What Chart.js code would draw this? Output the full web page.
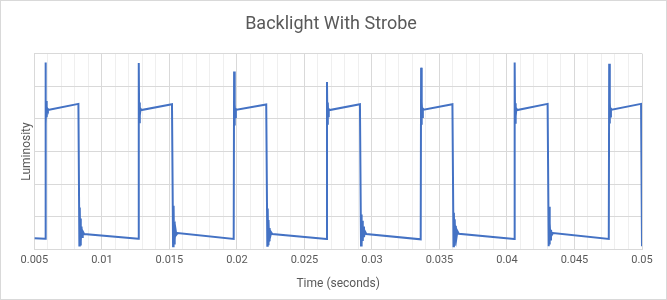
<!DOCTYPE html>
<html>
<head>
<meta charset="utf-8">
<script src="https://cdn.jsdelivr.net/npm/chart.js@4/dist/chart.umd.min.js"></script>
<style>
  html, body { margin:0; padding:0; background:#fff; }
  .frame { width:665px; height:298px; border:1px solid #d9d9d9; position:relative; }
  canvas { display:block; }
</style>
</head>
<body>
<div class="frame"><canvas id="strobe" width="665" height="298"></canvas></div>
<script>
// time (s) and luminosity readings, 7 strobe cycles
const times = [
  0.00500, 0.00579, 0.00582, 0.00585, 0.00588, 0.00591, 0.00595, 0.00600, 0.00826,
  0.00833, 0.00836, 0.00839, 0.00842, 0.00845, 0.00849, 0.00853, 0.00858, 0.00868,
  0.01270, 0.01273, 0.01276, 0.01279, 0.01282, 0.01286, 0.01292, 0.01519,
  0.01527, 0.01531, 0.01534, 0.01537, 0.01541, 0.01545, 0.01551, 0.01560,
  0.01976, 0.01979, 0.01982, 0.01985, 0.01988, 0.01992, 0.01998, 0.02217,
  0.02225, 0.02228, 0.02231, 0.02234, 0.02238, 0.02242, 0.02247, 0.02254, 0.02262,
  0.02664, 0.02667, 0.02670, 0.02673, 0.02676, 0.02680, 0.02686, 0.02911,
  0.02919, 0.02922, 0.02925, 0.02928, 0.02932, 0.02936, 0.02941, 0.02948, 0.02958,
  0.03361, 0.03364, 0.03367, 0.03370, 0.03373, 0.03377, 0.03383, 0.03596,
  0.03604, 0.03607, 0.03610, 0.03613, 0.03617, 0.03621, 0.03626, 0.03633, 0.03643,
  0.04054, 0.04057, 0.04060, 0.04063, 0.04066, 0.04070, 0.04076, 0.04301,
  0.04309, 0.04312, 0.04315, 0.04318, 0.04322, 0.04326, 0.04332, 0.04341,
  0.04754, 0.04757, 0.04760, 0.04763, 0.04766, 0.04770, 0.04776, 0.04993,
  0.05000
];
const luminosity = [
  0.34, 0.33, 5.73, 3.85, 4.55, 4.05, 4.32, 4.27, 4.46,
  0.12, 1.28, 0.15, 0.95, 0.25, 0.70, 0.38, 0.55, 0.47,
  0.33, 5.71, 3.90, 4.50, 4.10, 4.31, 4.27, 4.45,
  0.10, 1.34, 0.18, 0.85, 0.30, 0.62, 0.45, 0.50,
  0.32, 5.45, 3.80, 4.45, 4.05, 4.30, 4.28, 4.44,
  0.11, 1.25, 0.16, 0.90, 0.28, 0.65, 0.40, 0.52, 0.47,
  0.32, 5.13, 3.85, 4.50, 4.08, 4.30, 4.27, 4.45,
  0.12, 1.07, 0.15, 0.88, 0.26, 0.70, 0.38, 0.55, 0.47,
  0.31, 5.57, 3.82, 4.52, 4.06, 4.31, 4.28, 4.45,
  0.10, 1.12, 0.14, 0.92, 0.27, 0.72, 0.36, 0.56, 0.48,
  0.32, 5.73, 3.88, 4.48, 4.08, 4.31, 4.27, 4.46,
  0.10, 1.31, 0.15, 0.80, 0.30, 0.60, 0.44, 0.50,
  0.32, 5.69, 3.86, 4.50, 4.07, 4.31, 4.28, 4.46,
  0.10
];
const xMin = 0.005, xMax = 0.05, xStep = 0.001, xLabelStep = 0.005;
const yMin = 0, yMax = 6, yStep = 1;

const font = "'Roboto', sans-serif";
const textColor = '#595959';
const isMajor = v => Math.abs(v / xLabelStep - Math.round(v / xLabelStep)) < 1e-6;

new Chart(document.getElementById('strobe'), {
  type: 'scatter',
  data: {
    datasets: [{
      label: 'Luminosity',
      data: times.map((t, i) => ({x: t, y: luminosity[i]})),
      showLine: true,
      borderColor: '#4472C4',
      borderWidth: 2,
      pointRadius: 0,
      tension: 0
    }]
  },
  options: {
    responsive: false,
    animation: false,
    layout: {padding: {left: 19, right: 24, top: 13, bottom: 8}},
    plugins: {
      legend: {display: false},
      tooltip: {enabled: false},
      title: {
        display: true,
        text: 'Backlight With Strobe',
        color: textColor,
        font: {family: font, size: 18, weight: 'normal'},
        padding: {top: 0, bottom: 18}
      }
    },
    scales: {
      x: {
        type: 'linear',
        min: xMin, max: xMax,
        ticks: {
          stepSize: xStep,
          autoSkip: false,
          maxRotation: 0,
          color: textColor,
          font: {family: font, size: 11},
          padding: 4,
          callback: v => isMajor(v) ? String(Number(v.toFixed(3))) : ''
        },
        grid: {
          color: ctx => isMajor(ctx.tick.value) ? '#d9d9d9' : '#efefef',
          drawTicks: false
        },
        border: {color: '#d9d9d9'},
        title: {
          display: true,
          text: 'Time (seconds)',
          color: textColor,
          font: {family: font, size: 12},
          padding: {top: 6, bottom: 0}
        }
      },
      y: {
        min: yMin, max: yMax,
        ticks: {stepSize: yStep, display: false},
        grid: {color: '#d9d9d9', drawTicks: false},
        border: {display: false},
        title: {
          display: true,
          text: 'Luminosity',
          color: textColor,
          font: {family: font, size: 12},
          padding: {top: 0, bottom: 0}
        }
      }
    }
  }
});
</script>
</body>
</html>
